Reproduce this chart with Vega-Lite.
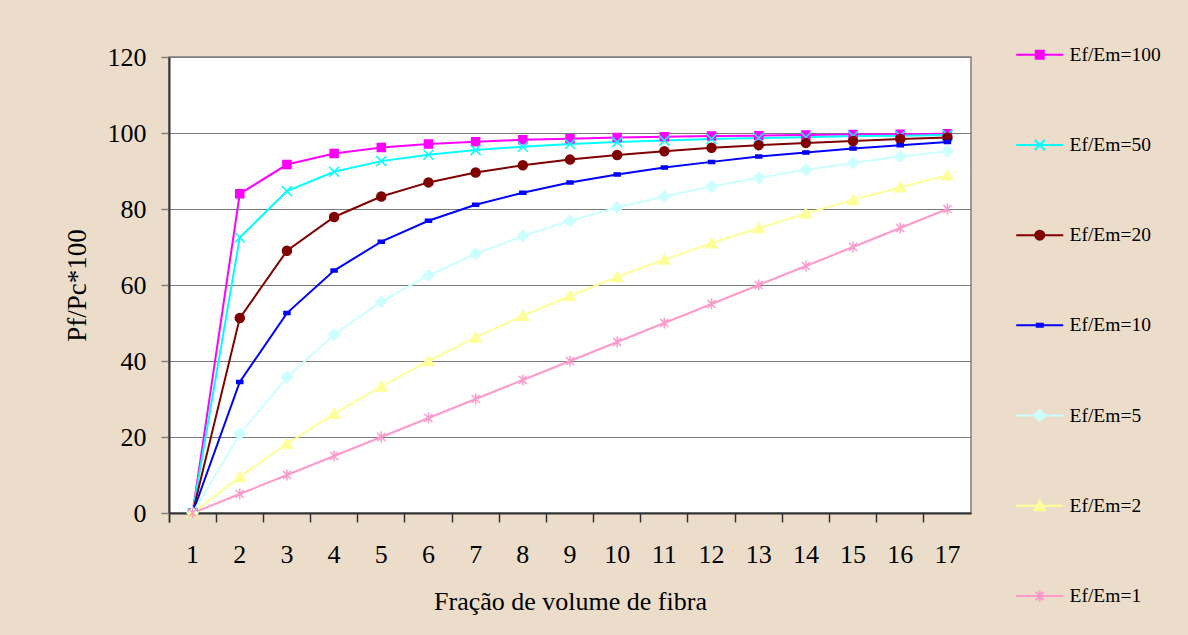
{
  "$schema": "https://vega.github.io/schema/vega-lite/v6.json",
  "autosize": "none",
  "width": 802,
  "height": 456,
  "padding": {"left": 169, "top": 57, "right": 217, "bottom": 122},
  "background": "#EBDDC9",
  "config": {
    "font": "Liberation Serif, Times New Roman, DejaVu Serif, serif",
    "view": {"fill": "white", "stroke": "#808080", "strokeWidth": 1.5},
    "axis": {"labelFont": "Liberation Serif, Times New Roman, DejaVu Serif, serif", "titleFont": "Liberation Serif, Times New Roman, DejaVu Serif, serif", "labelColor": "black", "titleColor": "black", "titleFontWeight": "normal"},
    "legend": {"labelFont": "Liberation Serif, Times New Roman, DejaVu Serif, serif", "labelFontSize": 19.5, "labelColor": "black", "symbolSize": 100, "symbolStrokeWidth": 2, "symbolOpacity": 1}
  },
  "data": {
    "values": [
      {"x": 1, "s": "Ef/Em=100", "v": 0}, {"x": 2, "s": "Ef/Em=100", "v": 84.0}, {"x": 3, "s": "Ef/Em=100", "v": 91.7}, {"x": 4, "s": "Ef/Em=100", "v": 94.6}, {"x": 5, "s": "Ef/Em=100", "v": 96.2}, {"x": 6, "s": "Ef/Em=100", "v": 97.1}, {"x": 7, "s": "Ef/Em=100", "v": 97.7}, {"x": 8, "s": "Ef/Em=100", "v": 98.2}, {"x": 9, "s": "Ef/Em=100", "v": 98.5}, {"x": 10, "s": "Ef/Em=100", "v": 98.8}, {"x": 11, "s": "Ef/Em=100", "v": 99.0}, {"x": 12, "s": "Ef/Em=100", "v": 99.2}, {"x": 13, "s": "Ef/Em=100", "v": 99.3}, {"x": 14, "s": "Ef/Em=100", "v": 99.5}, {"x": 15, "s": "Ef/Em=100", "v": 99.6}, {"x": 16, "s": "Ef/Em=100", "v": 99.7}, {"x": 17, "s": "Ef/Em=100", "v": 99.8},
      {"x": 1, "s": "Ef/Em=50", "v": 0}, {"x": 2, "s": "Ef/Em=50", "v": 72.5}, {"x": 3, "s": "Ef/Em=50", "v": 84.7}, {"x": 4, "s": "Ef/Em=50", "v": 89.8}, {"x": 5, "s": "Ef/Em=50", "v": 92.6}, {"x": 6, "s": "Ef/Em=50", "v": 94.3}, {"x": 7, "s": "Ef/Em=50", "v": 95.5}, {"x": 8, "s": "Ef/Em=50", "v": 96.4}, {"x": 9, "s": "Ef/Em=50", "v": 97.1}, {"x": 10, "s": "Ef/Em=50", "v": 97.6}, {"x": 11, "s": "Ef/Em=50", "v": 98.0}, {"x": 12, "s": "Ef/Em=50", "v": 98.4}, {"x": 13, "s": "Ef/Em=50", "v": 98.7}, {"x": 14, "s": "Ef/Em=50", "v": 98.9}, {"x": 15, "s": "Ef/Em=50", "v": 99.2}, {"x": 16, "s": "Ef/Em=50", "v": 99.3}, {"x": 17, "s": "Ef/Em=50", "v": 99.5},
      {"x": 1, "s": "Ef/Em=20", "v": 0}, {"x": 2, "s": "Ef/Em=20", "v": 51.3}, {"x": 3, "s": "Ef/Em=20", "v": 69.0}, {"x": 4, "s": "Ef/Em=20", "v": 77.9}, {"x": 5, "s": "Ef/Em=20", "v": 83.3}, {"x": 6, "s": "Ef/Em=20", "v": 87.0}, {"x": 7, "s": "Ef/Em=20", "v": 89.6}, {"x": 8, "s": "Ef/Em=20", "v": 91.5}, {"x": 9, "s": "Ef/Em=20", "v": 93.0}, {"x": 10, "s": "Ef/Em=20", "v": 94.2}, {"x": 11, "s": "Ef/Em=20", "v": 95.2}, {"x": 12, "s": "Ef/Em=20", "v": 96.1}, {"x": 13, "s": "Ef/Em=20", "v": 96.8}, {"x": 14, "s": "Ef/Em=20", "v": 97.4}, {"x": 15, "s": "Ef/Em=20", "v": 97.9}, {"x": 16, "s": "Ef/Em=20", "v": 98.4}, {"x": 17, "s": "Ef/Em=20", "v": 98.8},
      {"x": 1, "s": "Ef/Em=10", "v": 0}, {"x": 2, "s": "Ef/Em=10", "v": 34.5}, {"x": 3, "s": "Ef/Em=10", "v": 52.6}, {"x": 4, "s": "Ef/Em=10", "v": 63.8}, {"x": 5, "s": "Ef/Em=10", "v": 71.4}, {"x": 6, "s": "Ef/Em=10", "v": 76.9}, {"x": 7, "s": "Ef/Em=10", "v": 81.1}, {"x": 8, "s": "Ef/Em=10", "v": 84.3}, {"x": 9, "s": "Ef/Em=10", "v": 87.0}, {"x": 10, "s": "Ef/Em=10", "v": 89.1}, {"x": 11, "s": "Ef/Em=10", "v": 90.9}, {"x": 12, "s": "Ef/Em=10", "v": 92.4}, {"x": 13, "s": "Ef/Em=10", "v": 93.8}, {"x": 14, "s": "Ef/Em=10", "v": 94.9}, {"x": 15, "s": "Ef/Em=10", "v": 95.9}, {"x": 16, "s": "Ef/Em=10", "v": 96.8}, {"x": 17, "s": "Ef/Em=10", "v": 97.6},
      {"x": 1, "s": "Ef/Em=5", "v": 0}, {"x": 2, "s": "Ef/Em=5", "v": 20.8}, {"x": 3, "s": "Ef/Em=5", "v": 35.7}, {"x": 4, "s": "Ef/Em=5", "v": 46.9}, {"x": 5, "s": "Ef/Em=5", "v": 55.6}, {"x": 6, "s": "Ef/Em=5", "v": 62.5}, {"x": 7, "s": "Ef/Em=5", "v": 68.2}, {"x": 8, "s": "Ef/Em=5", "v": 72.9}, {"x": 9, "s": "Ef/Em=5", "v": 76.9}, {"x": 10, "s": "Ef/Em=5", "v": 80.4}, {"x": 11, "s": "Ef/Em=5", "v": 83.3}, {"x": 12, "s": "Ef/Em=5", "v": 85.9}, {"x": 13, "s": "Ef/Em=5", "v": 88.2}, {"x": 14, "s": "Ef/Em=5", "v": 90.3}, {"x": 15, "s": "Ef/Em=5", "v": 92.1}, {"x": 16, "s": "Ef/Em=5", "v": 93.8}, {"x": 17, "s": "Ef/Em=5", "v": 95.2},
      {"x": 1, "s": "Ef/Em=2", "v": 0}, {"x": 2, "s": "Ef/Em=2", "v": 9.5}, {"x": 3, "s": "Ef/Em=2", "v": 18.2}, {"x": 4, "s": "Ef/Em=2", "v": 26.1}, {"x": 5, "s": "Ef/Em=2", "v": 33.3}, {"x": 6, "s": "Ef/Em=2", "v": 40.0}, {"x": 7, "s": "Ef/Em=2", "v": 46.2}, {"x": 8, "s": "Ef/Em=2", "v": 51.9}, {"x": 9, "s": "Ef/Em=2", "v": 57.1}, {"x": 10, "s": "Ef/Em=2", "v": 62.1}, {"x": 11, "s": "Ef/Em=2", "v": 66.7}, {"x": 12, "s": "Ef/Em=2", "v": 71.0}, {"x": 13, "s": "Ef/Em=2", "v": 75.0}, {"x": 14, "s": "Ef/Em=2", "v": 78.8}, {"x": 15, "s": "Ef/Em=2", "v": 82.4}, {"x": 16, "s": "Ef/Em=2", "v": 85.7}, {"x": 17, "s": "Ef/Em=2", "v": 88.9},
      {"x": 1, "s": "Ef/Em=1", "v": 0}, {"x": 2, "s": "Ef/Em=1", "v": 5}, {"x": 3, "s": "Ef/Em=1", "v": 10}, {"x": 4, "s": "Ef/Em=1", "v": 15}, {"x": 5, "s": "Ef/Em=1", "v": 20}, {"x": 6, "s": "Ef/Em=1", "v": 25}, {"x": 7, "s": "Ef/Em=1", "v": 30}, {"x": 8, "s": "Ef/Em=1", "v": 35}, {"x": 9, "s": "Ef/Em=1", "v": 40}, {"x": 10, "s": "Ef/Em=1", "v": 45}, {"x": 11, "s": "Ef/Em=1", "v": 50}, {"x": 12, "s": "Ef/Em=1", "v": 55}, {"x": 13, "s": "Ef/Em=1", "v": 60}, {"x": 14, "s": "Ef/Em=1", "v": 65}, {"x": 15, "s": "Ef/Em=1", "v": 70}, {"x": 16, "s": "Ef/Em=1", "v": 75}, {"x": 17, "s": "Ef/Em=1", "v": 80}
    ]
  },
  "encoding": {
    "x": {
      "field": "x",
      "type": "ordinal",
      "scale": {"type": "band", "paddingInner": 0, "paddingOuter": 0},
      "axis": {
        "title": "Fração de volume de fibra",
        "labelAngle": 0,
        "labelFontSize": 26,
        "titleFontSize": 26,
        "labelPadding": 19,
        "titlePadding": 21,
        "bandPosition": 0,
        "tickExtra": true,
        "tickSize": 9,
        "tickColor": "#333333",
        "tickWidth": 1.5,
        "domainColor": "#333333",
        "domainWidth": 2,
        "grid": false
      }
    },
    "y": {
      "field": "v",
      "type": "quantitative",
      "scale": {"domain": [0, 120], "nice": false},
      "axis": {
        "title": "Pf/Pc*100",
        "values": [0, 20, 40, 60, 80, 100, 120],
        "labelFontSize": 26,
        "titleFontSize": 27,
        "labelPadding": 15,
        "titlePadding": 16,
        "tickSize": 8,
        "tickColor": "#808080",
        "tickWidth": 1.5,
        "domainColor": "#333333",
        "domainWidth": 2,
        "gridColor": "#7A7A7A",
        "gridWidth": 1.2,
        "gridOpacity": 1
      }
    },
    "color": {
      "field": "s",
      "type": "nominal",
      "scale": {
        "domain": ["Ef/Em=100", "Ef/Em=50", "Ef/Em=20", "Ef/Em=10", "Ef/Em=5", "Ef/Em=2", "Ef/Em=1"],
        "range": ["#FF00FF", "#00FFFF", "#800000", "#0000FF", "#CCFFFF", "#FFFF99", "#FF99CC"]
      },
      "legend": {
        "title": null,
        "orient": "none",
        "legendX": 861,
        "legendY": -12,
        "rowPadding": 69.2,
        "labelOffset": 20,
        "encode": {
          "symbols": {
            "update": {
              "shape": {"signal": "datum.value === 'Ef/Em=100' ? 'M-4.7,0H4.7M-0.8,-0.8H0.8V0.8H-0.8Z' : datum.value === 'Ef/Em=50' ? 'M-4.7,0H4.7M-1,-1L1,1M-1,1L1,-1' : datum.value === 'Ef/Em=20' ? 'M-4.7,0H4.7M0.9,0A0.9,0.9,0,1,1,-0.9,0A0.9,0.9,0,1,1,0.9,0Z' : datum.value === 'Ef/Em=10' ? 'M-4.7,0H4.7M-0.6,-0.3H0.6V0.3H-0.6Z' : datum.value === 'Ef/Em=5' ? 'M-4.7,0H4.7M0,-1.1L1.1,0L0,1.1L-1.1,0Z' : datum.value === 'Ef/Em=2' ? 'M-4.7,0H4.7M0,-1L1.1,0.9H-1.1Z' : 'M-4.7,0H4.7M0,-1.1V1.1M-0.8,-0.8L0.8,0.8M-0.8,0.8L0.8,-0.8'"},
              "strokeWidth": {"value": 2},
              "opacity": {"value": 1}
            }
          }
        }
      }
    }
  },
  "layer": [
    {
      "mark": {"type": "line", "strokeWidth": 2}
    },
    {
      "mark": {"type": "point", "filled": true, "opacity": 1, "size": 100, "strokeWidth": 1.5},
      "encoding": {
        "shape": {
          "field": "s",
          "type": "nominal",
          "legend": null,
          "scale": {
            "domain": ["Ef/Em=1", "Ef/Em=2", "Ef/Em=5", "Ef/Em=10", "Ef/Em=20", "Ef/Em=50", "Ef/Em=100"],
            "range": [
              "M0,-1.1V1.1M-0.8,-0.8L0.8,0.8M-0.8,0.8L0.8,-0.8",
              "M0,-1L1.1,0.9H-1.1Z",
              "M0,-1.1L1.1,0L0,1.1L-1.1,0Z",
              "M-0.6,-0.3H0.6V0.3H-0.6Z",
              "M0.9,0A0.9,0.9,0,1,1,-0.9,0A0.9,0.9,0,1,1,0.9,0Z",
              "M-1,-1L1,1M-1,1L1,-1",
              "M-0.8,-0.8H0.8V0.8H-0.8Z"
            ]
          }
        },
        "stroke": {
          "field": "s",
          "type": "nominal",
          "legend": null,
          "scale": {
            "domain": ["Ef/Em=100", "Ef/Em=50", "Ef/Em=20", "Ef/Em=10", "Ef/Em=5", "Ef/Em=2", "Ef/Em=1"],
            "range": ["#FF00FF", "#00FFFF", "#800000", "#0000FF", "#CCFFFF", "#FFFF99", "#FF99CC"]
          }
        }
      }
    }
  ]
}
